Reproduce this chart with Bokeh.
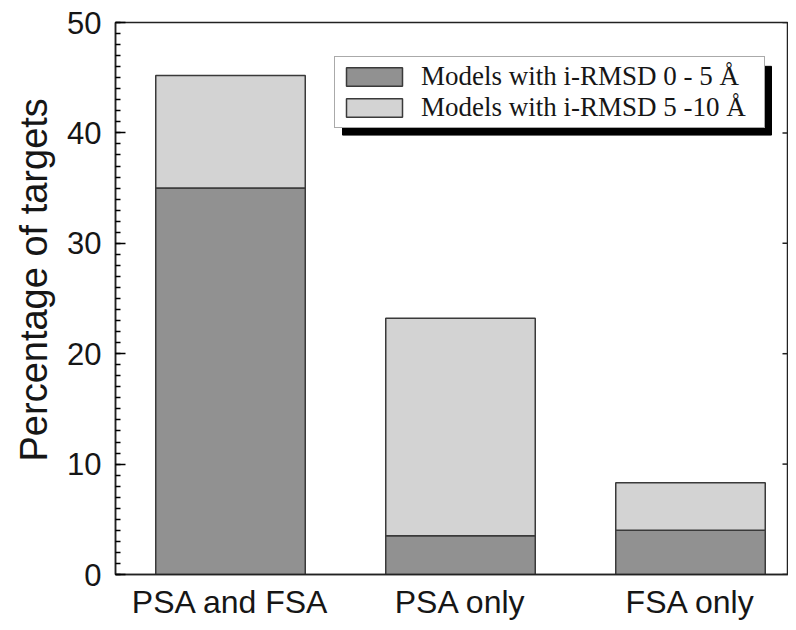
from bokeh.plotting import figure
from bokeh.models import (Range1d, FixedTicker, SingleIntervalTicker,
                          Legend, LegendItem, ColumnDataSource, Title)
from bokeh.embed import file_html
from bokeh.resources import INLINE

# ---- data ----
categories = ["PSA and FSA", "PSA only", "FSA only"]
rmsd_0_5 = [35.0, 3.5, 4.0]
rmsd_5_10 = [10.2, 19.7, 4.3]
series_labels = ["Models with i-RMSD 0 - 5 Å", "Models with i-RMSD 5 -10 Å"]
y_title = "Percentage of targets"
y_ticks = [0, 10, 20, 30, 40, 50]

DARK = "#919191"
LIGHT = "#d3d3d3"
EDGE = "#3a3a3a"
AXIS = "#222222"
TEXT = "#161616"

# ---- layout constants (pixels) ----
W, H = 788, 622
BL, BR, BT, BB = 115, 0, 22, 46
FW = W - BL - BR
FH = H - BT - BB
PX_PER_CAT = 230.0
Y_MAX = 50

x_pos = list(range(len(categories)))
src = ColumnDataSource(dict(x=x_pos, a=rmsd_0_5, b=rmsd_5_10))

x_end = -0.5 + FW / PX_PER_CAT
p = figure(width=W, height=H, output_backend="svg", toolbar_location=None,
           x_range=Range1d(-0.5, x_end), y_range=Range1d(0, Y_MAX),
           min_border_left=BL, min_border_right=BR, min_border_top=BT,
           min_border_bottom=BB)
p.grid.visible = False
p.outline_line_color = AXIS
p.outline_line_width = 1.5
p.background_fill_color = "white"
p.border_fill_color = "white"

renderers = p.vbar_stack(["a", "b"], x="x", width=0.65, source=src,
                         color=[DARK, LIGHT], line_color=EDGE, line_width=1.5)
for r, c in zip(renderers, [DARK, LIGHT]):
    r.glyph.fill_color = c
    r.glyph.line_color = EDGE

# small inward ticks on the right frame edge
tick_len = 6 / PX_PER_CAT
p.segment(x0=[x_end] * len(y_ticks), x1=[x_end - tick_len] * len(y_ticks),
          y0=y_ticks, y1=y_ticks, line_color=AXIS, line_width=1.5)

# ---- axes ----
xa = p.xaxis[0]
xa.ticker = FixedTicker(ticks=x_pos)
xa.major_label_overrides = {i: c for i, c in enumerate(categories)}
xa.major_tick_in = 0
xa.major_tick_out = 0
xa.minor_tick_line_color = None
xa.axis_line_width = 1.5
xa.axis_line_color = AXIS
xa.major_label_text_font = "Liberation Sans"
xa.major_label_text_font_size = "32px"
xa.major_label_text_color = TEXT
xa.major_label_standoff = 9

ya = p.yaxis[0]
ya.ticker = SingleIntervalTicker(interval=10, num_minor_ticks=10)
ya.major_tick_in = 10
ya.major_tick_out = 0
ya.minor_tick_in = 5
ya.minor_tick_out = 0
ya.major_tick_line_width = 1.5
ya.minor_tick_line_width = 1.5
ya.axis_line_width = 1.5
ya.axis_line_color = AXIS
ya.major_label_text_font = "Liberation Sans"
ya.major_label_text_font_size = "31px"
ya.major_label_text_color = TEXT
ya.major_label_standoff = 14

ytitle = Title(text=y_title, align="left", offset=113,
               text_font="Liberation Sans", text_font_size="38px",
               text_font_style="normal", text_color=TEXT, standoff=20)
p.add_layout(ytitle, "left")

# ---- legend with drop shadow ----
LEG_L, LEG_T, LEG_R, LEG_B = 334, 58, 763, 127   # canvas pixels
FRAME_L, FRAME_B = BL, BT + FH
def px2x(px):
    return -0.5 + (px - FRAME_L) / PX_PER_CAT
def py2y(py):
    return (FRAME_B - py) * Y_MAX / FH
SH = 8
p.quad(left=[px2x(LEG_L + SH)], right=[px2x(LEG_R + SH)],
       top=[py2y(LEG_T + SH)], bottom=[py2y(LEG_B + SH)],
       fill_color="black", line_color="black")

legend = Legend(items=[LegendItem(label=series_labels[0], renderers=[renderers[0]]),
                       LegendItem(label=series_labels[1], renderers=[renderers[1]])],
                location=(LEG_L - FRAME_L, FRAME_B - LEG_B - 3),
                label_text_font="Liberation Serif", label_text_font_size="27px",
                label_text_color=TEXT,
                glyph_width=70, glyph_height=23, label_standoff=12,
                label_height=24, label_width=339, spacing=0, padding=4, margin=0,
                border_line_color="#555555", border_line_width=1,
                background_fill_color="white", background_fill_alpha=1.0)
p.add_layout(legend, "center")

open("out.html", "w").write(file_html(p, INLINE))
